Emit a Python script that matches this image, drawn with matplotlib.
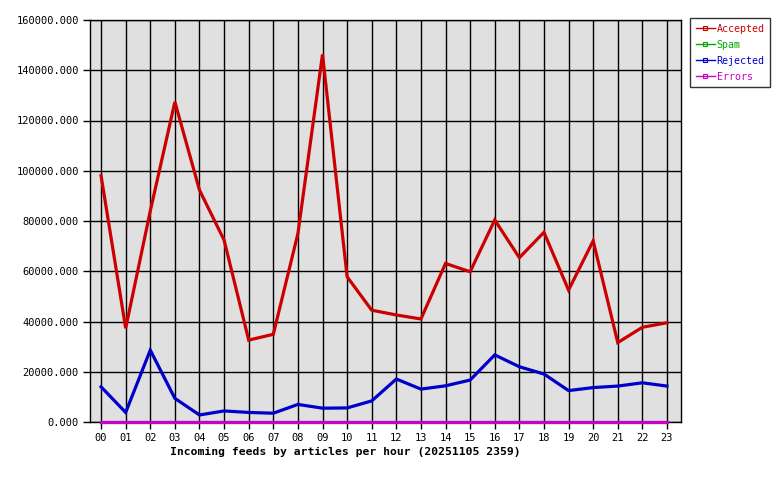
import matplotlib
matplotlib.use("Agg")
import matplotlib.pyplot as plt
from matplotlib.lines import Line2D

hours = [f"{h:02d}" for h in range(24)]
accepted = [98000, 37300, 84000, 127400, 92300, 72400, 32600, 34900, 75000, 146300,
            57800, 44500, 42600, 41000, 63100, 59800, 80400, 65400, 75500, 52500,
            72100, 31600, 37700, 39500]
spam = [0] * 24
rejected = [14000, 3800, 28600, 9400, 2800, 4400, 3800, 3500, 7000, 5500,
            5600, 8400, 17100, 13100, 14400, 16700, 26700, 22000, 19100, 12500,
            13700, 14300, 15600, 14300]
errors = [0] * 24
yticks = [0, 20000, 40000, 60000, 80000, 100000, 120000, 140000, 160000]
title = "Incoming feeds by articles per hour (20251105 2359)"

series = [("Accepted", accepted, "#cc0000"), ("Spam", spam, "#00aa00"),
          ("Rejected", rejected, "#0000cc"), ("Errors", errors, "#cc00cc")]

plt.rcParams['font.family'] = ['DejaVu Sans Mono']
fig = plt.figure(figsize=(7.8, 4.8), dpi=100)
ax = fig.add_axes([90/780, 58/480, 591/780, 402/480])
ax.set_facecolor("#e0e0e0")
x = list(range(24))
for i, (name, vals, col) in enumerate(series):
    ax.plot(x, vals, color=col, lw=2.3, solid_joinstyle='miter', zorder=4 + i, clip_on=False)
ax.set_xlim(-0.45, 23.57)
ax.set_ylim(0, 160000)
ax.set_xticks(x)
ax.set_xticklabels(hours, fontsize=7.5)
ax.set_yticks(yticks)
ax.set_yticklabels([f"{v}.000" for v in yticks], fontsize=7.5)
ax.grid(True, color="black", lw=1, zorder=1)
ax.set_axisbelow(True)
ax.tick_params(direction='out', length=5, width=1, color='black', pad=3)
for s in ax.spines.values():
    s.set_color('black'); s.set_linewidth(1); s.set_zorder(2)

fig.text(170/780, 1 - 452/480, title, fontsize=8.2, fontweight='bold', va='center', ha='left')

handles = [Line2D([0], [0], color=col, lw=1, marker='s', markersize=3,
                  markerfacecolor='none', markeredgewidth=0.8) for _, _, col in series]
leg = fig.legend(handles, [n for n, _, _ in series], loc='upper left',
                 bbox_to_anchor=(690/780, 1 - 18/480), fontsize=7.2, frameon=True,
                 fancybox=False, edgecolor='black', handlelength=1.9, handletextpad=0.2,
                 labelspacing=0.6, borderpad=0.55, labelcolor='linecolor', borderaxespad=0)
leg.get_frame().set_linewidth(1)
fig.savefig("out.png", dpi=100, facecolor='white')
